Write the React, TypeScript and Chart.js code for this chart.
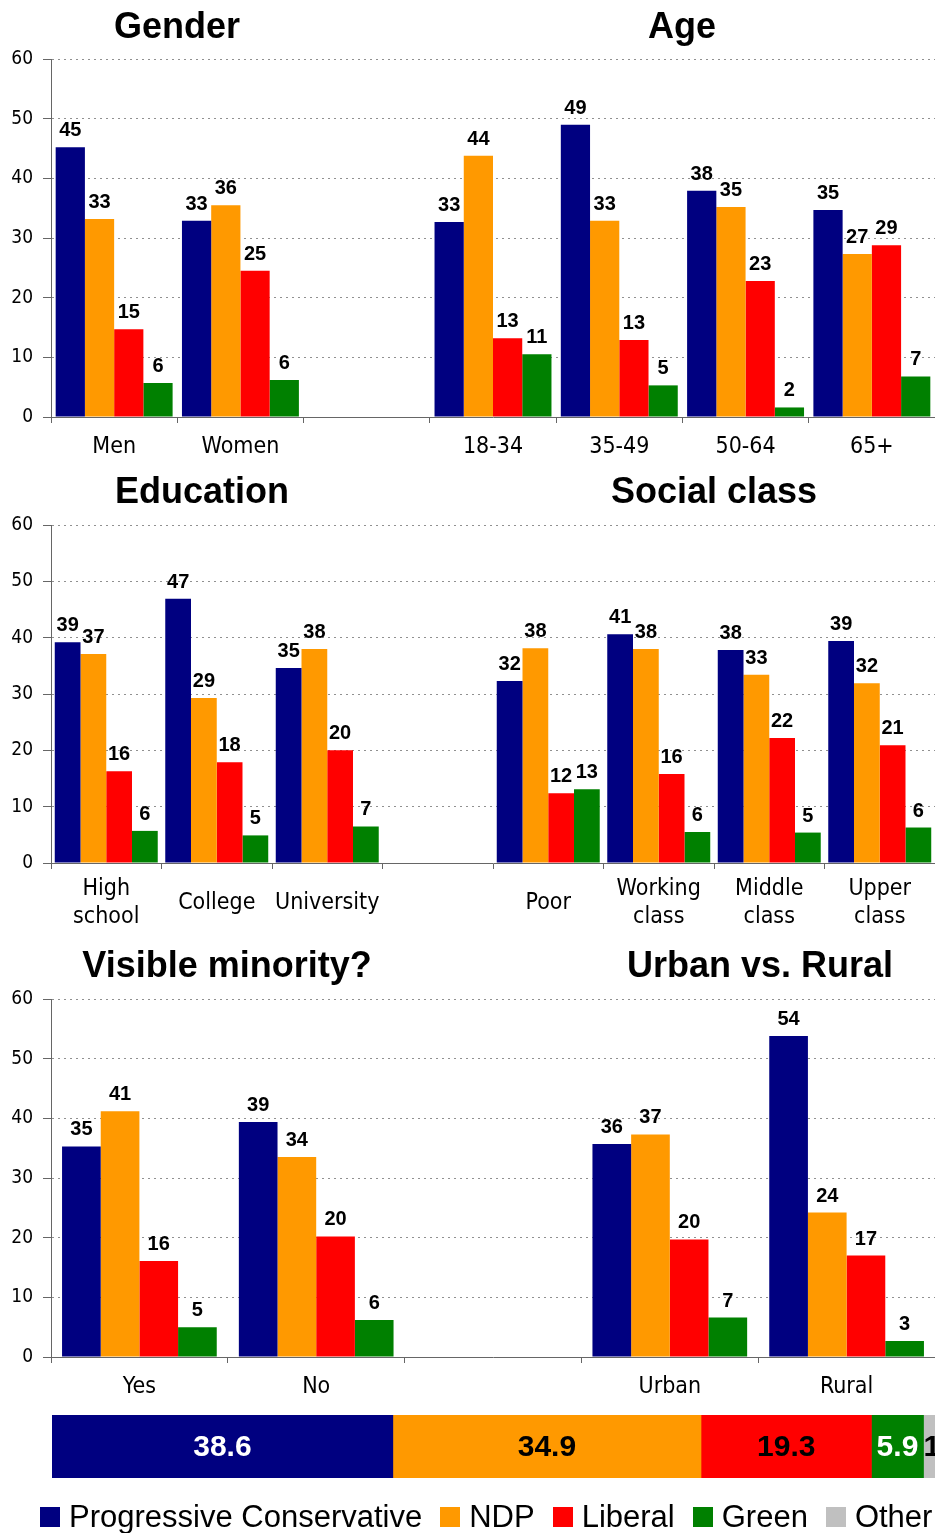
import React, { useEffect, useRef } from 'react';
import { Chart, registerables } from 'chart.js';

Chart.register(...registerables);

// ---------- data ----------
const PARTIES = ['Progressive Conservative', 'NDP', 'Liberal', 'Green', 'Other'];
const COLORS = ['#000080', '#FF9900', '#FF0000', '#008000', '#C0C0C0'];

// Panel 1: Gender / Age
const P1_LABELS = ['Men', 'Women', '', '18-34', '35-49', '50-64', '65+'];
const P1_PC = [45.2, 32.9, null, 32.7, 49.0, 37.9, 34.7];
const P1_NDP = [33.2, 35.5, null, 43.8, 32.9, 35.2, 27.3];
const P1_LIB = [14.7, 24.5, null, 13.2, 12.9, 22.8, 28.8];
const P1_GRN = [5.7, 6.2, null, 10.5, 5.3, 1.6, 6.8];

// Panel 2: Education / Social class
const P2_LABELS = [['High', 'school'], 'College', 'University', '', 'Poor', ['Working', 'class'], ['Middle', 'class'], ['Upper', 'class']];
const P2_PC = [39.2, 46.9, 34.6, null, 32.3, 40.6, 37.8, 39.4];
const P2_NDP = [37.1, 29.3, 38.0, null, 38.1, 38.0, 33.4, 31.9];
const P2_LIB = [16.3, 17.9, 20.0, null, 12.4, 15.8, 22.2, 20.9];
const P2_GRN = [5.7, 4.9, 6.5, null, 13.1, 5.5, 5.4, 6.3];

// Panel 3: Visible minority / Urban vs. Rural
const P3_LABELS = ['Yes', 'No', '', 'Urban', 'Rural'];
const P3_PC = [35.3, 39.4, null, 35.7, 53.8];
const P3_NDP = [41.2, 33.5, null, 37.3, 24.2];
const P3_LIB = [16.1, 20.2, null, 19.7, 17.0];
const P3_GRN = [5.0, 6.2, null, 6.6, 2.7];

// Overall result
const OVERALL = [38.6, 34.9, 19.3, 5.9, 1.3];
const OVERALL_LABEL_COLORS = ['#ffffff', '#000000', '#000000', '#ffffff', '#000000'];

const Y_TICKS_MAX = 60;
const Y_TICKS_STEP = 10;

// ---------- styling ----------
const TICK_FAMILY = '"DejaVu Sans Condensed", "DejaVu Sans", sans-serif';
const BOLD_FAMILY = '"Liberation Sans", Arial, sans-serif';
const W = 935;

type Title = { text: string; x: number; y: number };

function BarPanel(props: {
  top: number;
  height: number;
  padTop: number;
  axisHeight: number;
  labelPad: number;
  catPct: number;
  labels: any[];
  series: (number | null)[][];
  titles: Title[];
}) {
  const ref = useRef<HTMLCanvasElement>(null);
  useEffect(() => {
    const { padTop, axisHeight, labelPad, catPct, labels, series, titles } = props;
    const titlePlugin = {
      id: 'panelTitles',
      afterDraw(chart: any) {
        const ctx = chart.ctx;
        ctx.save();
        ctx.font = `bold 36px ${BOLD_FAMILY}`;
        ctx.fillStyle = '#000';
        ctx.textAlign = 'center';
        ctx.textBaseline = 'alphabetic';
        titles.forEach((t) => ctx.fillText(t.text, t.x, t.y));
        ctx.restore();
      },
    };
    const valuePlugin = {
      id: 'barValues',
      afterDatasetsDraw(chart: any) {
        const ctx = chart.ctx;
        ctx.save();
        ctx.font = `bold 20px ${BOLD_FAMILY}`;
        ctx.fillStyle = '#000';
        ctx.textAlign = 'center';
        ctx.textBaseline = 'alphabetic';
        chart.data.datasets.forEach((ds: any, di: number) => {
          const meta = chart.getDatasetMeta(di);
          meta.data.forEach((el: any, i: number) => {
            const v = ds.data[i];
            if (v === null || v === undefined) return;
            ctx.fillText(String(Math.round(v)), el.x, el.y - 11);
          });
        });
        ctx.restore();
      },
    };
    const chart = new Chart(ref.current as HTMLCanvasElement, {
      type: 'bar',
      data: {
        labels,
        datasets: series.map((d, i) => ({
          label: PARTIES[i],
          data: d,
          backgroundColor: COLORS[i],
          borderWidth: 0,
          categoryPercentage: catPct,
          barPercentage: 1,
        })),
      },
      options: {
        animation: false,
        responsive: false,
        devicePixelRatio: 1,
        layout: { padding: { top: padTop, left: 0, right: 0, bottom: 0 } },
        plugins: { legend: { display: false }, tooltip: { enabled: false }, title: { display: false } },
        scales: {
          x: {
            type: 'category',
            offset: true,
            grid: {
              display: true,
              offset: true,
              drawOnChartArea: false,
              drawTicks: true,
              tickLength: 6,
              tickColor: '#666',
              tickBorderDash: [],
            },
            border: { display: true, color: '#666', width: 1 },
            ticks: {
              color: '#000',
              font: { family: TICK_FAMILY, size: 23 },
              padding: labelPad,
              maxRotation: 0,
              autoSkip: false,
              crossAlign: 'center',
            },
            afterFit: (scale: any) => {
              scale.height = axisHeight;
            },
          },
          y: {
            min: 0,
            max: Y_TICKS_MAX,
            grid: {
              color: '#909090',
              lineWidth: 1,
              drawTicks: true,
              tickLength: 8,
              tickColor: '#666',
              tickBorderDash: [],
            },
            border: { display: true, color: '#666', width: 1, dash: [2, 4] },
            ticks: {
              stepSize: Y_TICKS_STEP,
              color: '#000',
              font: { family: TICK_FAMILY, size: 19 },
              padding: 10,
            },
            afterFit: (scale: any) => {
              scale.width = 51;
            },
          },
        },
      } as any,
      plugins: [titlePlugin, valuePlugin],
    });
    return () => chart.destroy();
  }, []);
  return (
    <canvas
      ref={ref}
      width={W}
      height={props.height}
      style={{ position: 'absolute', left: 0, top: props.top, width: W, height: props.height }}
    />
  );
}

function OverallBar() {
  const ref = useRef<HTMLCanvasElement>(null);
  useEffect(() => {
    const labelPlugin = {
      id: 'overallLabels',
      afterDatasetsDraw(chart: any) {
        const ctx = chart.ctx;
        ctx.save();
        ctx.font = `bold 30px ${BOLD_FAMILY}`;
        ctx.textBaseline = 'middle';
        chart.data.datasets.forEach((ds: any, di: number) => {
          const el = chart.getDatasetMeta(di).data[0] as any;
          const v = ds.data[0];
          const last = di === chart.data.datasets.length - 1;
          ctx.fillStyle = OVERALL_LABEL_COLORS[di];
          if (last) {
            ctx.textAlign = 'left';
            ctx.fillText(v.toFixed(1), el.base, el.y + 1);
          } else {
            ctx.textAlign = 'center';
            ctx.fillText(v.toFixed(1), (el.x + el.base) / 2, el.y + 1);
          }
        });
        ctx.restore();
      },
    };
    const chart = new Chart(ref.current as HTMLCanvasElement, {
      type: 'bar',
      data: {
        labels: ['Overall'],
        datasets: OVERALL.map((v, i) => ({
          label: PARTIES[i],
          data: [v],
          backgroundColor: COLORS[i],
          borderWidth: 0,
          categoryPercentage: 1,
          barPercentage: 1,
        })),
      },
      options: {
        indexAxis: 'y',
        animation: false,
        responsive: false,
        devicePixelRatio: 1,
        layout: { padding: { top: 25, left: 52, right: 0, bottom: 12 } },
        plugins: { legend: { display: false }, tooltip: { enabled: false } },
        scales: {
          x: { stacked: true, min: 0, max: 100, display: false },
          y: { stacked: true, display: false },
        },
      } as any,
      plugins: [labelPlugin],
    });
    return () => chart.destroy();
  }, []);
  return (
    <canvas
      ref={ref}
      width={W}
      height={100}
      style={{ position: 'absolute', left: 0, top: 1390, width: W, height: 100 }}
    />
  );
}

function Legend() {
  return (
    <div
      style={{
        position: 'absolute',
        left: 40,
        top: 1502,
        height: 30,
        display: 'flex',
        alignItems: 'center',
        whiteSpace: 'nowrap',
        fontFamily: BOLD_FAMILY,
        fontSize: 31,
        lineHeight: '30px',
        color: '#000',
      }}
    >
      {PARTIES.map((p, i) => (
        <span key={p} style={{ display: 'flex', alignItems: 'center', marginRight: 18 }}>
          <span style={{ display: 'inline-block', width: 20, height: 20, background: COLORS[i], marginRight: 9 }} />
          <span>{p}</span>
        </span>
      ))}
    </div>
  );
}

export default function App() {
  return (
    <div
      style={{
        position: 'absolute',
        left: 0,
        top: 0,
        width: W,
        height: 1533,
        overflow: 'hidden',
        background: '#fff',
      }}
    >
      <BarPanel
        top={0}
        height={467}
        padTop={59}
        axisHeight={50}
        labelPad={24}
        catPct={0.926}
        labels={P1_LABELS}
        series={[P1_PC, P1_NDP, P1_LIB, P1_GRN]}
        titles={[
          { text: 'Gender', x: 177, y: 38 },
          { text: 'Age', x: 682, y: 38 },
        ]}
      />
      <BarPanel
        top={465}
        height={473}
        padTop={60}
        axisHeight={75}
        labelPad={20}
        catPct={0.932}
        labels={P2_LABELS}
        series={[P2_PC, P2_NDP, P2_LIB, P2_GRN]}
        titles={[
          { text: 'Education', x: 202, y: 38 },
          { text: 'Social class', x: 714, y: 38 },
        ]}
      />
      <BarPanel
        top={940}
        height={467}
        padTop={59}
        axisHeight={50}
        labelPad={24}
        catPct={0.875}
        labels={P3_LABELS}
        series={[P3_PC, P3_NDP, P3_LIB, P3_GRN]}
        titles={[
          { text: 'Visible minority?', x: 227, y: 37 },
          { text: 'Urban vs. Rural', x: 760, y: 37 },
        ]}
      />
      <OverallBar />
      <Legend />
    </div>
  );
}
